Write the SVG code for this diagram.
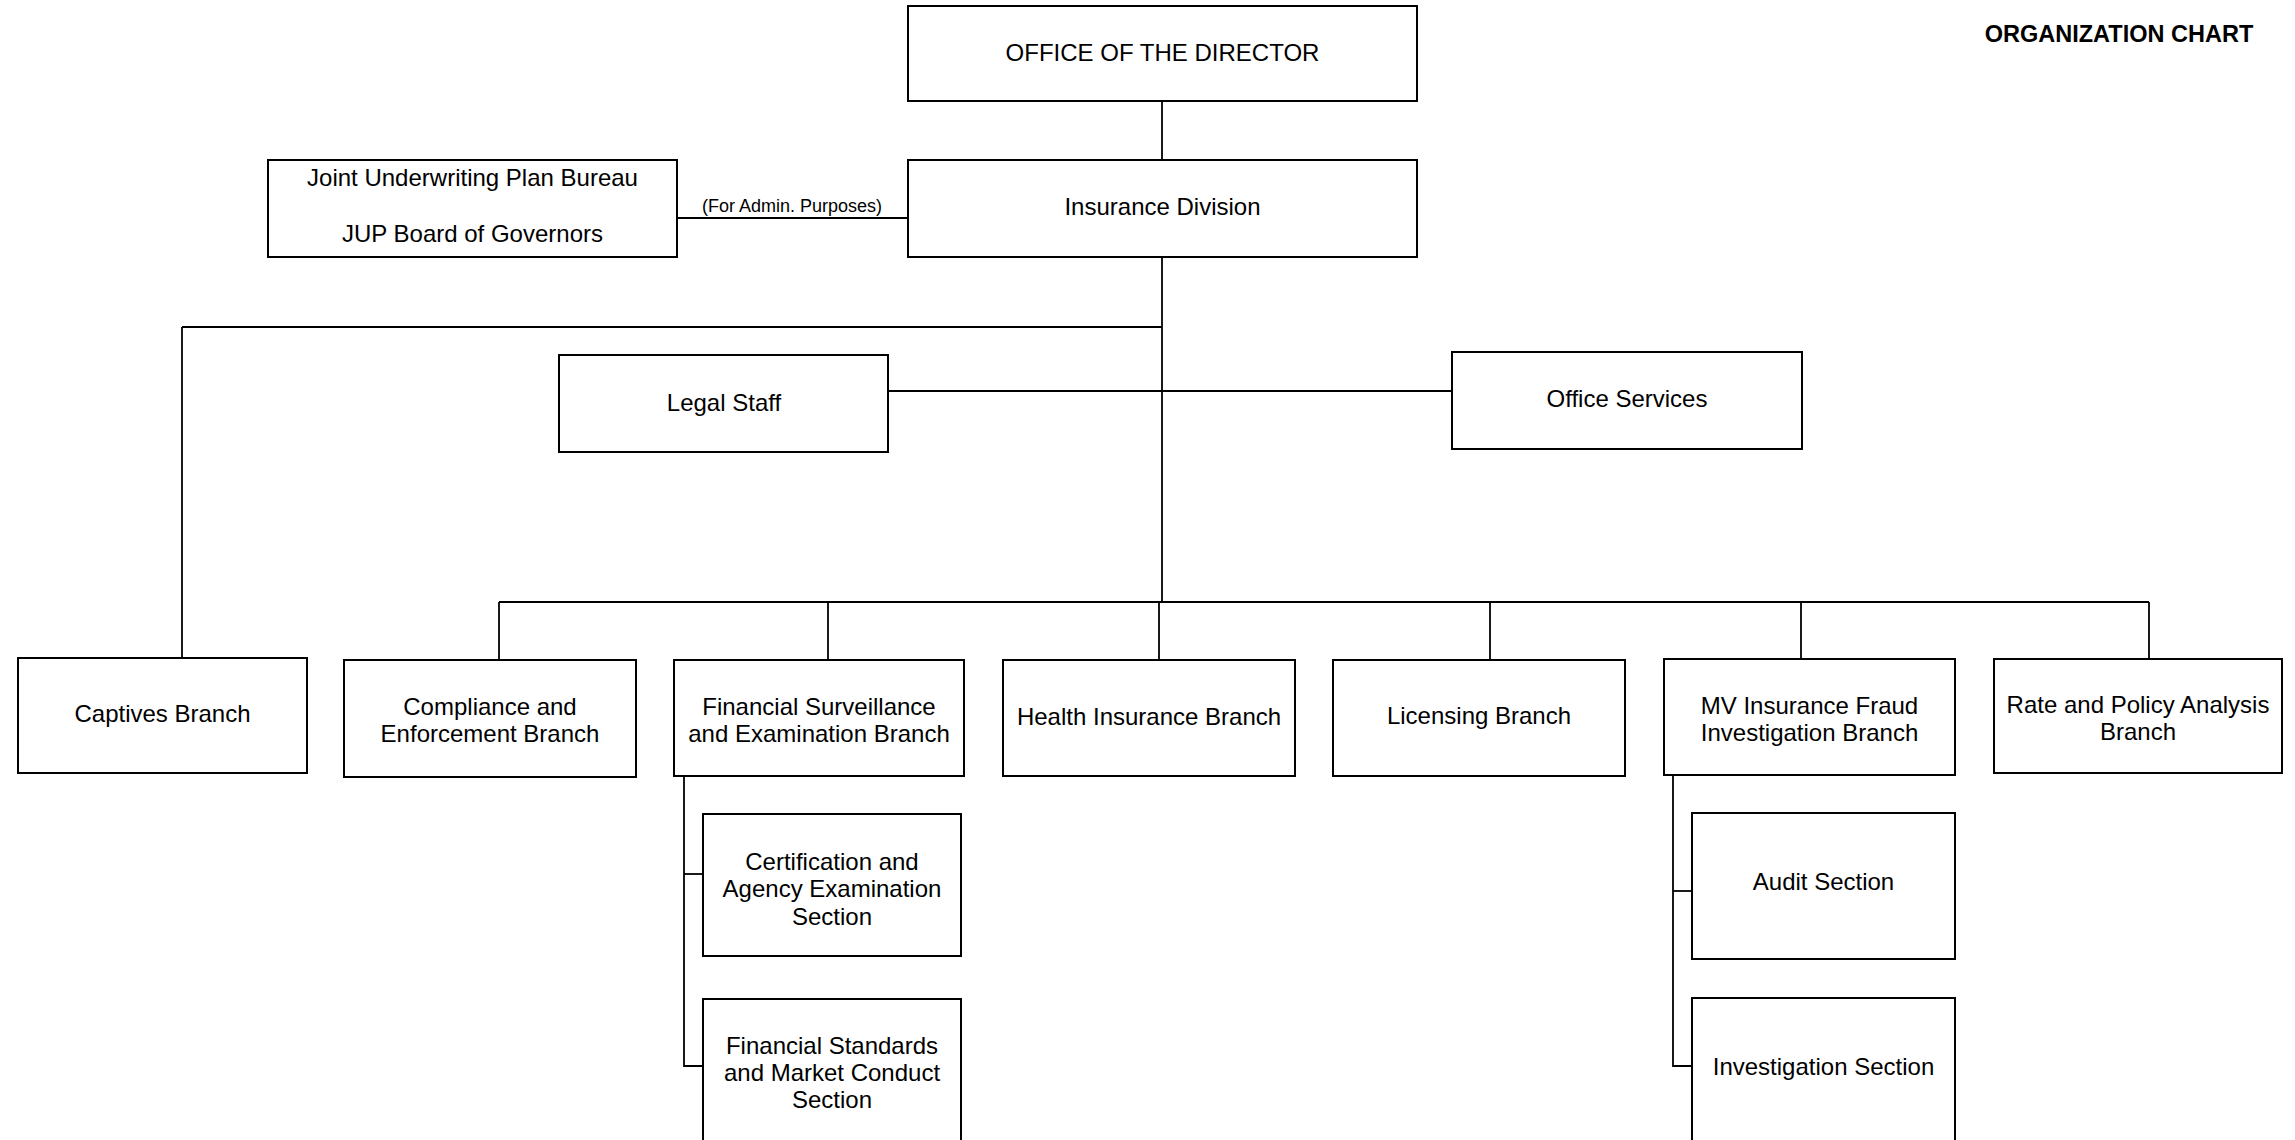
<svg xmlns="http://www.w3.org/2000/svg" width="2295" height="1140" viewBox="0 0 2295 1140">
  <style>
    .box { fill: #ffffff; stroke: #000000; stroke-width: 2; }
    .lbl { font-family: "Liberation Sans", Arial, sans-serif; font-size: 24px; fill: #000000; text-anchor: middle; dominant-baseline: central; }
    .small { font-family: "Liberation Sans", Arial, sans-serif; font-size: 18px; fill: #000000; text-anchor: middle; dominant-baseline: central; }
    .title { font-family: "Liberation Sans", Arial, sans-serif; font-size: 23.5px; font-weight: bold; fill: #000000; text-anchor: middle; dominant-baseline: central; }
    .conn { fill: none; stroke: #000000; stroke-width: 1.8; }
  </style>
  <rect width="2295" height="1140" fill="#ffffff"/>

  <text class="title" x="2119" y="34">ORGANIZATION CHART</text>

  <!-- connectors -->
  <g id="connectors" class="conn">
    <path d="M1162,101 V160"/>
    <path d="M677,218 H908"/>
    <path d="M1162,257 V602"/>
    <path d="M182,327 H1162"/>
    <path d="M182,327 V658"/>
    <path d="M888,391 H1452"/>
    <path d="M499,602 H2149"/>
    <path d="M499,602 V660"/>
    <path d="M828,602 V660"/>
    <path d="M1159,602 V660"/>
    <path d="M1490,602 V660"/>
    <path d="M1801,602 V659"/>
    <path d="M2149,602 V659"/>
    <path d="M684,776 V1066 H703"/>
    <path d="M684,874 H703"/>
    <path d="M1673,775 V1066 H1692"/>
    <path d="M1673,891 H1692"/>
  </g>
  <text class="small" x="792" y="206">(For Admin. Purposes)</text>

  <g id="office-of-the-director">
    <rect class="box" x="908" y="6" width="509" height="95"/>
    <text class="lbl" x="1162.5" y="52">OFFICE OF THE DIRECTOR</text>
  </g>
  <g id="insurance-division">
    <rect class="box" x="908" y="160" width="509" height="97"/>
    <text class="lbl" x="1162.5" y="206">Insurance Division</text>
  </g>
  <g id="jup">
    <rect class="box" x="268" y="160" width="409" height="97"/>
    <text class="lbl" x="472.5" y="177">Joint Underwriting Plan Bureau</text>
    <text class="lbl" x="472.5" y="233">JUP Board of Governors</text>
  </g>
  <g id="legal-staff">
    <rect class="box" x="559" y="355" width="329" height="97"/>
    <text class="lbl" x="724" y="402">Legal Staff</text>
  </g>
  <g id="office-services">
    <rect class="box" x="1452" y="352" width="350" height="97"/>
    <text class="lbl" x="1627" y="398">Office Services</text>
  </g>
  <g id="captives-branch">
    <rect class="box" x="18" y="658" width="289" height="115"/>
    <text class="lbl" x="162.5" y="713">Captives Branch</text>
  </g>
  <g id="compliance-branch">
    <rect class="box" x="344" y="660" width="292" height="117"/>
    <text class="lbl" x="490" y="706">Compliance and</text>
    <text class="lbl" x="490" y="733">Enforcement Branch</text>
  </g>
  <g id="financial-surveillance-branch">
    <rect class="box" x="674" y="660" width="290" height="116"/>
    <text class="lbl" x="819" y="706">Financial Surveillance</text>
    <text class="lbl" x="819" y="733">and Examination Branch</text>
  </g>
  <g id="health-insurance-branch">
    <rect class="box" x="1003" y="660" width="292" height="116"/>
    <text class="lbl" x="1149" y="716">Health Insurance Branch</text>
  </g>
  <g id="licensing-branch">
    <rect class="box" x="1333" y="660" width="292" height="116"/>
    <text class="lbl" x="1479" y="715">Licensing Branch</text>
  </g>
  <g id="mv-fraud-branch">
    <rect class="box" x="1664" y="659" width="291" height="116"/>
    <text class="lbl" x="1809.5" y="705">MV Insurance Fraud</text>
    <text class="lbl" x="1809.5" y="732">Investigation Branch</text>
  </g>
  <g id="rate-policy-branch">
    <rect class="box" x="1994" y="659" width="288" height="114"/>
    <text class="lbl" x="2138" y="704">Rate and Policy Analysis</text>
    <text class="lbl" x="2138" y="731">Branch</text>
  </g>
  <g id="certification-section">
    <rect class="box" x="703" y="814" width="258" height="142"/>
    <text class="lbl" x="832" y="861">Certification and</text>
    <text class="lbl" x="832" y="888">Agency Examination</text>
    <text class="lbl" x="832" y="916">Section</text>
  </g>
  <g id="financial-standards-section">
    <rect class="box" x="703" y="999" width="258" height="160"/>
    <text class="lbl" x="832" y="1045">Financial Standards</text>
    <text class="lbl" x="832" y="1072">and Market Conduct</text>
    <text class="lbl" x="832" y="1099">Section</text>
  </g>
  <g id="audit-section">
    <rect class="box" x="1692" y="813" width="263" height="146"/>
    <text class="lbl" x="1823.5" y="881">Audit Section</text>
  </g>
  <g id="investigation-section">
    <rect class="box" x="1692" y="998" width="263" height="160"/>
    <text class="lbl" x="1823.5" y="1066">Investigation Section</text>
  </g>
</svg>
